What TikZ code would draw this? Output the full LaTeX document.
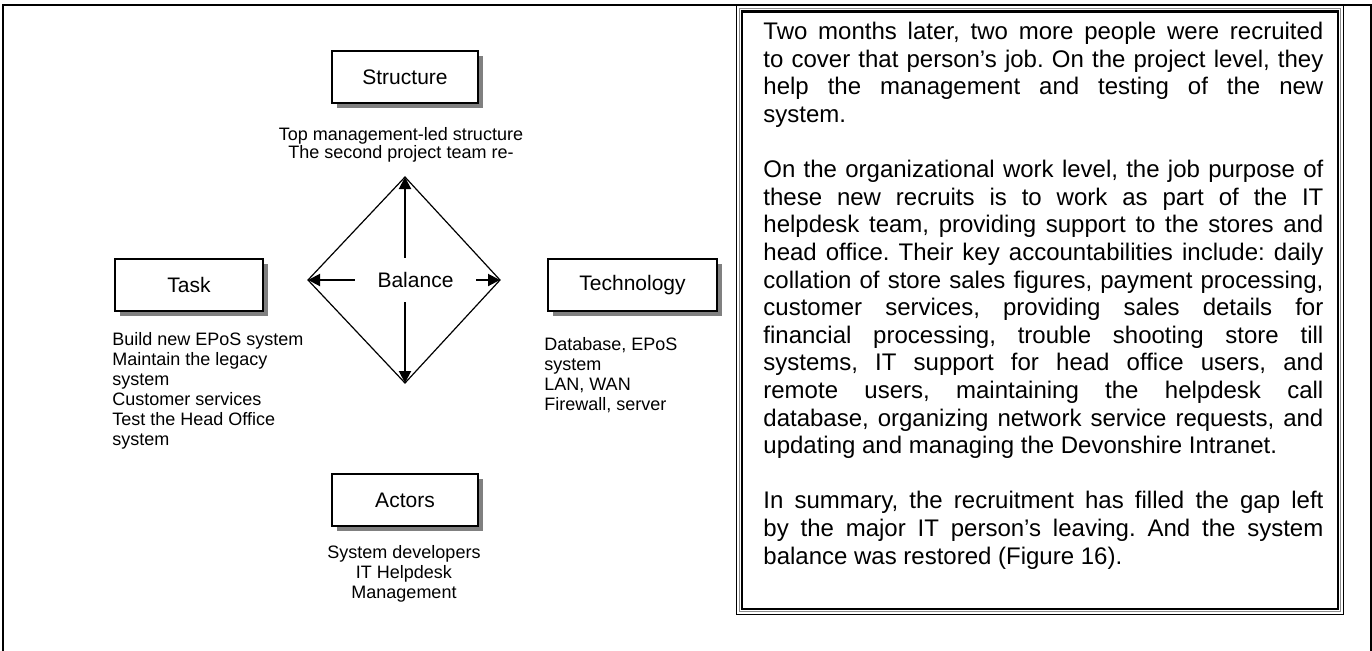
\documentclass[tikz,border=0pt]{standalone}
\usepackage{fontspec}
\setmainfont{Liberation Sans}
\usetikzlibrary{arrows.meta,shadows}
\frenchspacing

\tikzset{
  sysbox/.style={draw, line width=1pt, fill=white, minimum height=26pt, inner sep=0pt,
    font=\fontsize{10.5}{12}\selectfont,
    drop shadow={shadow xshift=2.5pt, shadow yshift=-2.5pt, fill=black!50, opacity=1}},
  syslist/.style={inner sep=0pt, font=\fontsize{9}{10}\selectfont},
  balarrow/.style={line width=1pt, -{Triangle[length=6pt,width=6pt]}},
}

\begin{document}
\begin{tikzpicture}[x=0.5pt, y=-0.5pt]
\useasboundingbox (0,0) rectangle (1372,650);
\clip (0,0) rectangle (1372,650);
% outer frame
\draw[line width=1pt] (2.5,700) -- (2.5,5) -- (1371,5) -- (1371,700);

% the balance diamond
\coordinate (top) at (405,177);
\coordinate (left) at (308,280);
\coordinate (right) at (500,280);
\coordinate (bottom) at (405,383);
\draw[line width=0.6pt] (top) -- (right) -- (bottom) -- (left) -- cycle;
\node[minimum width=60.5pt, minimum height=22pt, inner sep=0pt, font=\fontsize{10.5}{12}\selectfont] (balance) at (415.5,280) {Balance};
\draw[balarrow] (balance.north -| top) -- (top);
\draw[balarrow] (balance.south -| bottom) -- (bottom);
\draw[balarrow] (balance.west) -- (left);
\draw[balarrow] (balance.east) -- (right);

% the four elements
\node[sysbox, minimum width=73pt] (structure) at (405,77) {Structure};
\node[sysbox, minimum width=74pt] (task) at (189,284.5) {Task};
\node[sysbox, minimum width=84.5pt] (technology) at (632.5,285) {Technology};
\node[sysbox, minimum width=73pt] (actors) at (405,500) {Actors};

\node[syslist, anchor=north, align=center, font=\fontsize{9}{9}\selectfont] (structurelist) at (401,127)
  {Top management-led structure\\The second project team re-};
\node[syslist, anchor=north west, align=left] (tasklist) at (112,332)
  {Build new EPoS system\\Maintain the legacy\\system\\Customer services\\Test the Head Office\\system};
\node[syslist, anchor=north west, align=left] (technologylist) at (544,337)
  {Database, EPoS\\system\\LAN, WAN\\Firewall, server};
\node[syslist, anchor=north, align=center] (actorslist) at (404,545)
  {System developers\\IT Helpdesk\\Management};

% case text box
\draw[line width=0.65pt] (736.5,5) rectangle (1343.5,614.5);
\draw[black!45, line width=0.6pt] (739.5,8.5) rectangle (1340.5,611.5);
\draw[line width=1.1pt] (742,11.5) rectangle (1338,609);
\node[anchor=north west, inner sep=0pt, text width=280pt, align=justify,
  font=\fontsize{12}{13.8}\selectfont] (story) at (763,22)
  {Two months later, two more people were recruited\linebreak
   to cover that person’s job. On the project level, they\linebreak
   help the management and testing of the new\linebreak
   system.\par\vspace{13.8pt}
   On the organizational work level, the job purpose of\linebreak
   these new recruits is to work as part of the IT\linebreak
   helpdesk team, providing support to the stores and\linebreak
   head office. Their key accountabilities include: daily\linebreak
   collation of store sales figures, payment processing,\linebreak
   customer services, providing sales details for\linebreak
   financial processing, trouble shooting store till\linebreak
   systems, IT support for head office users, and\linebreak
   remote users, maintaining the helpdesk call\linebreak
   database, organizing network service requests, and\linebreak
   updating and managing the Devonshire Intranet.\par\vspace{13.8pt}
   In summary, the recruitment has filled the gap left\linebreak
   by the major IT person’s leaving. And the system\linebreak
   balance was restored (Figure 16).};
\end{tikzpicture}
\end{document}
